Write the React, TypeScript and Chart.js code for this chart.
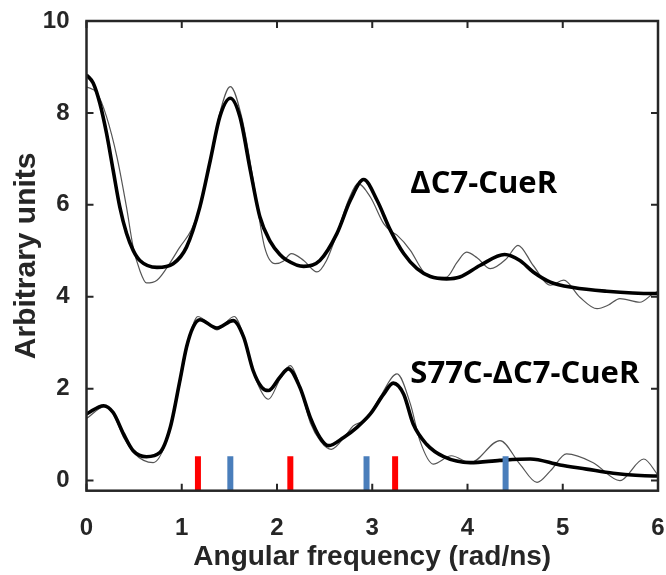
import React, { useEffect, useRef } from "react";
import { Chart, registerables } from "chart.js";

Chart.register(...registerables);

// ---- Data ----
const X_TICKS = [0, 1, 2, 3, 4, 5, 6];
const Y_TICKS = [0, 2, 4, 6, 8, 10];

// ΔC7-CueR (fit, thick)
const TOP_FIT_X = [0, 0.07, 0.14, 0.21, 0.28, 0.35, 0.42, 0.49, 0.56, 0.74, 0.91, 1.05, 1.19, 1.3, 1.4, 1.51, 1.61, 1.72, 1.82, 1.93, 2.03, 2.1, 2.28, 2.45, 2.63, 2.77, 2.91, 3.05, 3.19, 3.33, 3.47, 3.61, 3.78, 3.92, 4.13, 4.39, 4.55, 4.69, 4.87, 5.11, 5.46, 5.95, 6.0];
const TOP_FIT_Y = [8.83, 8.65, 8.21, 7.56, 6.75, 5.95, 5.38, 5.01, 4.79, 4.64, 4.72, 5.08, 5.95, 6.97, 7.92, 8.32, 7.92, 6.75, 5.74, 5.2, 4.92, 4.8, 4.66, 4.79, 5.38, 6.1, 6.55, 6.1, 5.45, 4.94, 4.61, 4.44, 4.39, 4.43, 4.68, 4.92, 4.79, 4.54, 4.32, 4.2, 4.12, 4.07, 4.07];

// ΔC7-CueR (raw, thin)
const TOP_RAW_X = [0, 0.11, 0.21, 0.32, 0.42, 0.49, 0.56, 0.63, 0.74, 0.84, 0.98, 1.1, 1.19, 1.3, 1.4, 1.51, 1.63, 1.75, 1.87, 1.98, 2.07, 2.15, 2.28, 2.42, 2.52, 2.63, 2.75, 2.85, 2.98, 3.12, 3.2, 3.26, 3.4, 3.54, 3.66, 3.78, 3.89, 3.99, 4.1, 4.24, 4.41, 4.53, 4.69, 4.87, 5.01, 5.18, 5.36, 5.48, 5.6, 5.81, 5.95, 6.0];
const TOP_RAW_Y = [8.57, 8.43, 7.92, 7.04, 5.95, 5.08, 4.57, 4.3, 4.36, 4.62, 5.08, 5.45, 5.95, 6.97, 8.0, 8.57, 7.9, 6.54, 5.08, 4.72, 4.78, 4.94, 4.79, 4.54, 4.79, 5.38, 6.1, 6.46, 6.17, 5.59, 5.42, 5.34, 5.01, 4.54, 4.42, 4.43, 4.75, 4.97, 4.85, 4.61, 4.83, 5.12, 4.68, 4.25, 4.36, 3.99, 3.74, 3.82, 3.96, 3.88, 4.07, 4.12];

// S77C-ΔC7-CueR (fit, thick)
const BOT_FIT_X = [0, 0.18, 0.28, 0.39, 0.49, 0.63, 0.77, 0.88, 0.98, 1.05, 1.12, 1.19, 1.37, 1.54, 1.65, 1.75, 1.84, 1.91, 2.03, 2.12, 2.24, 2.35, 2.45, 2.54, 2.7, 2.84, 2.98, 3.12, 3.22, 3.33, 3.43, 3.57, 3.75, 4.03, 4.34, 4.66, 4.97, 5.25, 5.53, 5.95, 6.0];
const BOT_FIT_Y = [1.45, 1.63, 1.48, 1.01, 0.65, 0.52, 0.61, 1.16, 2.17, 2.9, 3.34, 3.5, 3.32, 3.48, 3.12, 2.39, 2.03, 1.96, 2.25, 2.43, 2.03, 1.37, 0.94, 0.76, 0.94, 1.16, 1.45, 1.88, 2.12, 1.88, 1.23, 0.79, 0.52, 0.39, 0.44, 0.47, 0.34, 0.25, 0.16, 0.1, 0.1];

// S77C-ΔC7-CueR (raw, thin)
const BOT_RAW_X = [0, 0.19, 0.28, 0.39, 0.5, 0.6, 0.7, 0.84, 0.98, 1.05, 1.17, 1.37, 1.55, 1.65, 1.77, 1.91, 2.03, 2.14, 2.24, 2.35, 2.46, 2.57, 2.73, 2.8, 2.94, 3.08, 3.26, 3.4, 3.5, 3.64, 3.83, 4.03, 4.34, 4.55, 4.73, 4.87, 5.04, 5.32, 5.6, 5.85, 6.0];
const BOT_RAW_Y = [1.35, 1.61, 1.45, 0.94, 0.6, 0.44, 0.39, 0.87, 2.1, 2.85, 3.57, 3.28, 3.57, 3.15, 2.25, 1.77, 2.2, 2.5, 2.05, 1.26, 0.85, 0.68, 1.01, 1.19, 1.34, 1.81, 2.32, 1.67, 0.87, 0.36, 0.54, 0.39, 0.87, 0.36, -0.04, 0.21, 0.58, 0.39, 0.0, 0.47, 0.12];

// Frequency markers
const RED_MARKERS = [1.17, 2.14, 3.24];
const BLUE_MARKERS = [1.51, 2.94, 4.4];
const MARKER_TOP = 0.53;

const Y_MIN = -0.22;
const Y_MAX = 10;
const X_MIN = 0;
const X_MAX = 6;

const LABELS = [
  { text: "ΔC7-CueR", x: 3.4, y: 6.25 },
  { text: "S77C-ΔC7-CueR", x: 3.4, y: 2.12 },
];

const AXIS_COLOR = "#262626";
const TICK_FONT = { family: "'Liberation Sans', Arial, sans-serif", size: 24, weight: "bold" as const };

const zip = (xs: number[], ys: number[]) => xs.map((x, i) => ({ x, y: ys[i] }));

const framePlugin = {
  id: "frame",
  afterDatasetsDraw(chart: any) {
    const { ctx, chartArea, scales } = chart;
    const { left, right, top, bottom } = chartArea;
    const x = scales.x;
    const y = scales.y;
    ctx.save();
    ctx.strokeStyle = AXIS_COLOR;
    ctx.lineWidth = 2.5;
    ctx.strokeRect(left, top, right - left, bottom - top);
    ctx.lineWidth = 2;
    ctx.beginPath();
    for (const v of X_TICKS) {
      const px = x.getPixelForValue(v);
      ctx.moveTo(px, bottom);
      ctx.lineTo(px, bottom - 7);
      ctx.moveTo(px, top);
      ctx.lineTo(px, top + 7);
    }
    for (const v of Y_TICKS) {
      const py = y.getPixelForValue(v);
      ctx.moveTo(left, py);
      ctx.lineTo(left + 7, py);
      ctx.moveTo(right, py);
      ctx.lineTo(right - 7, py);
    }
    ctx.stroke();
    ctx.fillStyle = "#000";
    ctx.font = "bold 31px 'Open Sans', sans-serif";
    ctx.textAlign = "left";
    ctx.textBaseline = "alphabetic";
    for (const lab of LABELS) {
      ctx.fillText(lab.text, x.getPixelForValue(lab.x), y.getPixelForValue(lab.y));
    }
    ctx.restore();
  },
};

export default function App() {
  const ref = useRef<HTMLCanvasElement | null>(null);
  useEffect(() => {
    if (!ref.current) return;
    const markerSets = [
      ...RED_MARKERS.map((m) => ({ m, color: "#ff0000" })),
      ...BLUE_MARKERS.map((m) => ({ m, color: "#4a7ebb" })),
    ].map(({ m, color }) => ({
      data: [
        { x: m, y: Y_MIN },
        { x: m, y: MARKER_TOP },
      ],
      borderColor: color,
      borderWidth: 6,
      borderCapStyle: "butt" as const,
      pointRadius: 0,
      tension: 0,
      order: 0,
    }));
    const curve = (xs: number[], ys: number[], thick: boolean) => ({
      data: zip(xs, ys),
      borderColor: thick ? "#000000" : "#555555",
      borderWidth: thick ? 3.6 : 1.2,
      pointRadius: 0,
      cubicInterpolationMode: "monotone" as const,
      order: thick ? 1 : 2,
    });
    const chart = new Chart(ref.current, {
      type: "line",
      data: {
        datasets: [
          ...markerSets,
          curve(TOP_FIT_X, TOP_FIT_Y, true),
          curve(BOT_FIT_X, BOT_FIT_Y, true),
          curve(TOP_RAW_X, TOP_RAW_Y, false),
          curve(BOT_RAW_X, BOT_RAW_Y, false),
        ],
      },
      options: {
        animation: false,
        responsive: false,
        maintainAspectRatio: false,
        layout: { padding: { top: 21, right: 8, left: 0, bottom: 0 } },
        plugins: { legend: { display: false }, tooltip: { enabled: false } },
        scales: {
          x: {
            type: "linear",
            min: X_MIN,
            max: X_MAX,
            grid: { display: false },
            border: { display: false },
            afterBuildTicks: (s: any) => {
              s.ticks = X_TICKS.map((v) => ({ value: v }));
            },
            afterFit: (s: any) => {
              s.height = 84.3;
              s.paddingLeft = 0;
              s.paddingRight = 0;
            },
            ticks: { padding: 15, color: AXIS_COLOR, font: TICK_FONT, callback: (v: any) => String(v) },
            title: {
              display: true,
              text: "Angular frequency (rad/ns)",
              color: AXIS_COLOR,
              font: { family: "'Liberation Sans', Arial, sans-serif", size: 28, weight: "bold", lineHeight: 1.2 },
              padding: { top: 0, bottom: 1 },
            },
          },
          y: {
            type: "linear",
            min: Y_MIN,
            max: Y_MAX,
            grid: { display: false },
            border: { display: false },
            afterBuildTicks: (s: any) => {
              s.ticks = Y_TICKS.map((v) => ({ value: v }));
            },
            afterFit: (s: any) => {
              s.width = 86.5;
              s.paddingTop = 0;
              s.paddingBottom = 0;
            },
            ticks: { padding: 9, color: AXIS_COLOR, font: TICK_FONT, callback: (v: any) => String(v) },
            title: {
              display: true,
              text: "Arbitrary units",
              color: AXIS_COLOR,
              font: { family: "'Liberation Sans', Arial, sans-serif", size: 30, weight: "bold", lineHeight: 1.2 },
              padding: { top: 9, bottom: 0 },
            },
          },
        },
      },
      plugins: [framePlugin],
    });
    return () => chart.destroy();
  }, []);
  return (
    <div style={{ position: "fixed", left: 0, top: 0, width: 666, height: 575, background: "#fff" }}>
      <canvas ref={ref} width={666} height={575} style={{ width: 666, height: 575 }} />
    </div>
  );
}
